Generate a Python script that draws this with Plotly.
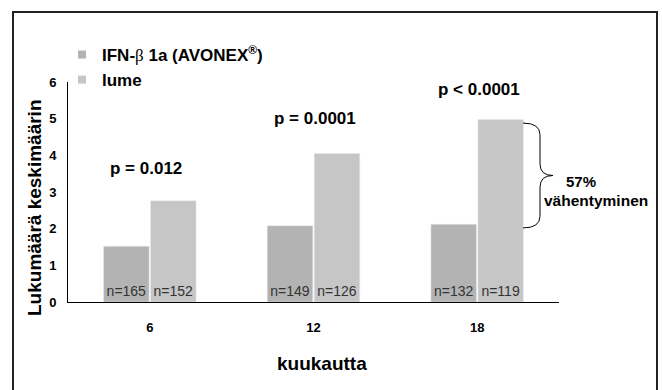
import plotly.graph_objects as go

months = ["6", "12", "18"]
ifn_values = [1.52, 2.08, 2.12]
lume_values = [2.76, 4.05, 4.98]
ifn_n = ["n=165", "n=149", "n=132"]
lume_n = ["n=152", "n=126", "n=119"]
p_labels = ["p = 0.012", "p = 0.0001", "p < 0.0001"]
p_heights = [3.63, 5.0, 5.8]
p_shift = [-4, 1, 2]
y_ticks = [0, 1, 2, 3, 4, 5, 6]
ifn_name = "<b>IFN-</b><span style='font-family:Liberation Serif'>β</span><b> 1a (AVONEX<sup>®</sup>)</b>"
lume_name = "<b>lume</b>"

IFN_COLOR = "#b3b3b3"
LUME_COLOR = "#c6c6c6"
FONT = "Liberation Sans, Arial, sans-serif"

fig = go.Figure()
fig.add_trace(go.Bar(x=months, y=ifn_values, marker_color=IFN_COLOR, text=ifn_n,
                     textposition="inside", insidetextanchor="start", textangle=0,
                     textfont=dict(size=14, color="#333333", family=FONT),
                     showlegend=False, hoverinfo="skip"))
fig.add_trace(go.Bar(x=months, y=lume_values, marker_color=LUME_COLOR, text=lume_n,
                     textposition="inside", insidetextanchor="start", textangle=0,
                     textfont=dict(size=14, color="#333333", family=FONT),
                     showlegend=False, hoverinfo="skip"))
# legend entries
fig.add_trace(go.Scatter(x=[None], y=[None], mode="markers", name=ifn_name,
                         marker=dict(symbol="square", size=8, color=IFN_COLOR)))
fig.add_trace(go.Scatter(x=[None], y=[None], mode="markers", name=lume_name,
                         marker=dict(symbol="square", size=8, color=LUME_COLOR)))

L, R, T, B = 68, 103, 82, 88
W, H = 662, 390
pw, ph = W - L - R, H - T - B

def px_x(p):
    return (p - L) / pw

def px_y(p):
    return (H - B - p) / ph

for i, (lab, h, s) in enumerate(zip(p_labels, p_heights, p_shift)):
    fig.add_annotation(x=i, y=h, xref="x", yref="y", text="<b>" + lab + "</b>",
                       showarrow=False, xshift=s, xanchor="center", yanchor="middle",
                       font=dict(size=17, color="black", family=FONT))

# brace for reduction at 18 months
yt = lume_values[2] - 0.1
yb = ifn_values[2] - 0.1
ym = (yt + yb) / 2
r = 0.32
xa, xv, xt = px_x(523), px_x(540), px_x(553)
path = (f"M {xa},{yt} Q {xv},{yt} {xv},{yt - r} L {xv},{ym + r} "
        f"Q {xv},{ym} {xt},{ym} Q {xv},{ym} {xv},{ym - r} "
        f"L {xv},{yb + r} Q {xv},{yb} {xa},{yb}")
fig.add_shape(type="path", path=path, xref="paper", yref="y",
              line=dict(color="black", width=1))
fig.add_annotation(x=px_x(581), y=ym - 0.15, xref="paper", yref="y",
                   text="<b>57%</b>", showarrow=False, xanchor="center", yanchor="middle",
                   font=dict(size=15, color="black", family=FONT))
fig.add_annotation(x=px_x(596), y=ym - 0.67, xref="paper", yref="y",
                   text="<b>vähentyminen</b>", showarrow=False, xanchor="center", yanchor="middle",
                   font=dict(size=15.5, color="black", family=FONT))

# axis titles
fig.add_annotation(x=px_x(322), y=px_y(363), xref="paper", yref="paper",
                   text="<b>kuukautta</b>", showarrow=False, xanchor="center", yanchor="middle",
                   font=dict(size=19, color="black", family=FONT))
fig.add_annotation(x=px_x(34), y=px_y(208), xref="paper", yref="paper",
                   text="<b>Lukumäärä keskimäärin</b>", showarrow=False, textangle=-90,
                   xanchor="center", yanchor="middle",
                   font=dict(size=19, color="black", family=FONT))

# outer frame
fig.add_shape(type="rect", xref="paper", yref="paper",
              x0=px_x(13), x1=px_x(657), y0=px_y(400), y1=px_y(12),
              line=dict(color="#222222", width=2), layer="below")

fig.update_layout(
    width=W, height=H,
    margin=dict(l=L, r=R, t=T, b=B),
    paper_bgcolor="white", plot_bgcolor="white",
    barmode="group", bargap=0.426, bargroupgap=0.03,
    font=dict(family=FONT, color="black"),
    showlegend=True,
    legend=dict(x=px_x(62), y=px_y(37), xanchor="left", yanchor="top",
                font=dict(size=17, color="black", family=FONT),
                itemwidth=30, tracegroupgap=0, bgcolor="rgba(0,0,0,0)"),
    xaxis=dict(type="category", categoryorder="array", categoryarray=months,
               range=[-0.5, 2.5],
               showline=True, linecolor="black", linewidth=1, showgrid=False,
               ticks="", ticklabelstandoff=13, zeroline=False,
               tickfont=dict(size=13, color="black", family=FONT, weight="bold")),
    yaxis=dict(range=[0, 6], tickvals=y_ticks, showline=True, linecolor="black", linewidth=1,
               showgrid=False, ticks="", ticklabelstandoff=8, zeroline=False,
               tickfont=dict(size=13, color="black", family=FONT, weight="bold")),
)
fig.write_html("out.html", config={"displayModeBar": False},
               post_script="document.body.style.margin='0';")
